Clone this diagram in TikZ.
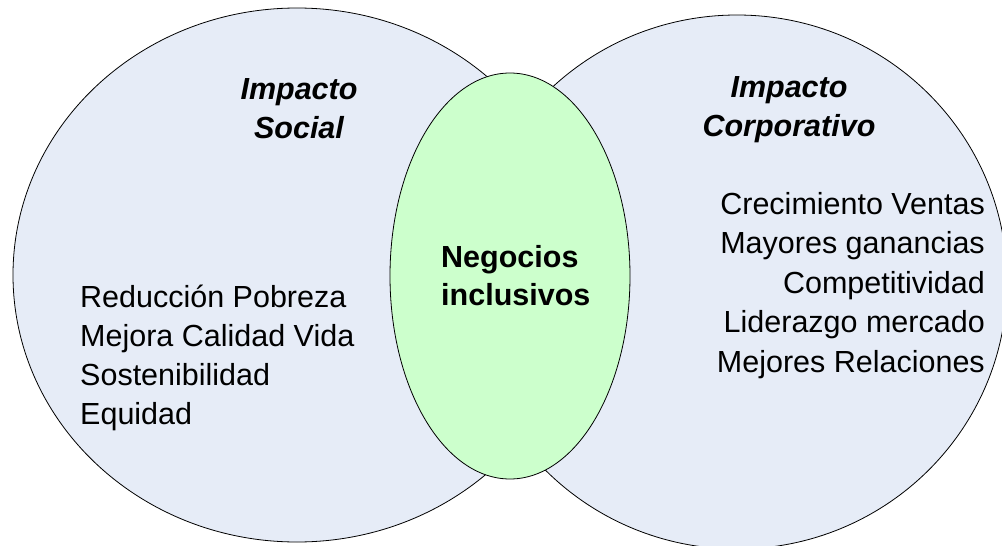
\documentclass[tikz,border=0pt]{standalone}
\usepackage{fontspec}
\setmainfont{Liberation Sans}
\usetikzlibrary{shapes.geometric}
\definecolor{circfill}{RGB}{230,236,247}
\definecolor{midfill}{RGB}{204,255,204}
\begin{document}
\begin{tikzpicture}[x=1pt,y=-1pt,
  venn/.style={draw=black, line width=0.8pt, ellipse, inner sep=0pt},
  txt/.style={inner sep=0pt, font=\fontsize{30.5}{39}\selectfont},
  ttl/.style={txt, font=\fontsize{30.5}{39}\selectfont\bfseries\itshape},
  mid/.style={txt, font=\fontsize{30.5}{39}\selectfont\bfseries}]
\useasboundingbox (0,0) rectangle (1002,546);
\node[venn, fill=circfill, minimum width=568pt, minimum height=534pt] (L) at (297,275) {};
\node[venn, fill=circfill, minimum width=540pt, minimum height=534pt] (R) at (737,282) {};
\node[venn, fill=midfill, minimum width=240pt, minimum height=406pt] (M) at (510,276) {};
% titles
\node[ttl, anchor=base] (ls1) at (299,99) {Impacto};
\node[ttl, anchor=base] (ls2) at (299,138) {Social};
\node[ttl, anchor=base] (rs1) at (789,97) {Impacto};
\node[ttl, anchor=base] (rs2) at (789,136) {Corporativo};
% middle
\node[mid, anchor=base west] (m1) at (441,267) {Negocios};
\node[mid, anchor=base west] (m2) at (441,305) {inclusivos};
% left list
\node[txt, anchor=base west] (l1) at (80,307) {Reducción Pobreza};
\node[txt, anchor=base west] (l2) at (80,346) {Mejora Calidad Vida};
\node[txt, anchor=base west] (l3) at (80,385) {Sostenibilidad};
\node[txt, anchor=base west] (l4) at (80,424) {Equidad};
% right list
\node[txt, anchor=base east] (r1) at (985,214) {Crecimiento Ventas};
\node[txt, anchor=base east] (r2) at (985,253.5) {Mayores ganancias};
\node[txt, anchor=base east] (r3) at (985,293) {Competitividad};
\node[txt, anchor=base east] (r4) at (985,332.5) {Liderazgo mercado};
\node[txt, anchor=base east] (r5) at (985,372) {Mejores Relaciones};
\end{tikzpicture}
\end{document}
